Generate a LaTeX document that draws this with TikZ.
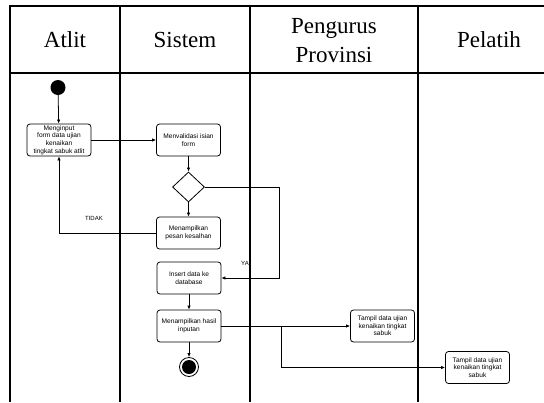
\documentclass[tikz,border=0pt]{standalone}
\usepackage{fontspec}
\setmainfont{Liberation Serif}
\newfontfamily\boxfont{Liberation Sans}
\usetikzlibrary{arrows.meta, shapes.geometric}
\tikzset{
    lane_line/.style={line width=2pt},
    flow/.style={-{Latex[length=4pt,width=3.5pt]}, line width=0.8pt},
    act_box/.style={draw, line width=0.8pt, rounded corners=3pt, minimum width=64, minimum height=32, inner sep=1pt, align=center, font=\boxfont\fontsize{6.6}{7.6}\selectfont},
    head_text/.style={align=center, font=\fontsize{23}{29}\selectfont},
    small_label/.style={font=\boxfont\fontsize{6}{7}\selectfont}
}

\begin{document}
\begin{tikzpicture}[x=1pt, y=-1pt]
    \useasboundingbox (0,0) rectangle (544,402);
    % swimlanes
    \draw[lane_line] (544,6) -- (10,6) -- (10,402);
    \draw[lane_line] (10,73) -- (544,73);
    \foreach \lx in {120,250,418}
        \draw[lane_line] (\lx,6) -- (\lx,402);
    \node[head_text] (hatlit) at (65,40) {Atlit};
    \node[head_text] (hsistem) at (185,40) {Sistem};
    \node[head_text] (hpengurus) at (334,41) {Pengurus\\Provinsi};
    \node[head_text] (hpelatih) at (489,40) {Pelatih};
    % start and activities
    \node[circle, fill=black, minimum size=15, inner sep=0] (start) at (58,87.5) {};
    \node[act_box] (input) at (59,140) {Menginput\\form data ujian\\kenaikan\\tingkat sabuk atlit};
    \node[act_box] (validasi) at (188.5,140) {Menvalidasi isian\\form};
    \node[draw, line width=0.8pt, diamond, minimum width=32, minimum height=30, inner sep=0] (cek) at (188.5,187) {};
    \node[act_box] (pesan) at (188.5,233) {Menampilkan\\pesan kesalhan};
    \node[act_box] (insert) at (189,278) {Insert data ke\\database};
    \node[act_box] (hasil) at (189,326) {Menampilkan hasil\\inputan};
    \node[act_box] (tampilprov) at (382.5,326) {Tampil data ujian\\kenaikan tingkat\\sabuk};
    \node[act_box] (tampilpel) at (477.5,367.5) {Tampil data ujian\\kenaikan tingkat\\sabuk};
    % end
    \node[circle, draw, line width=0.8pt, minimum size=19, inner sep=0] (stop) at (189,367) {};
    \fill (stop) circle (7);
    % connectors
    \draw[flow] (start) -- (input);
    \draw[flow] (input) -- (validasi);
    \draw[flow] (validasi) -- (cek);
    \draw[flow] (cek) -- (pesan);
    \draw[flow] (pesan.west) -| (input.south);
    \node[small_label] (tidak) at (94,218) {TIDAK};
    \draw[flow] (cek.east) -- (279,187) |- (insert.east);
    \node[small_label] (ya) at (245,263) {YA};
    \draw[flow] (insert) -- (hasil);
    \draw[flow] (hasil) -- (stop);
    \draw[flow] (hasil.east) -- (tampilprov.west);
    \coordinate (cabang) at (281,326);
    \draw[flow] (cabang) |- (tampilpel.west);
\end{tikzpicture}
\end{document}
